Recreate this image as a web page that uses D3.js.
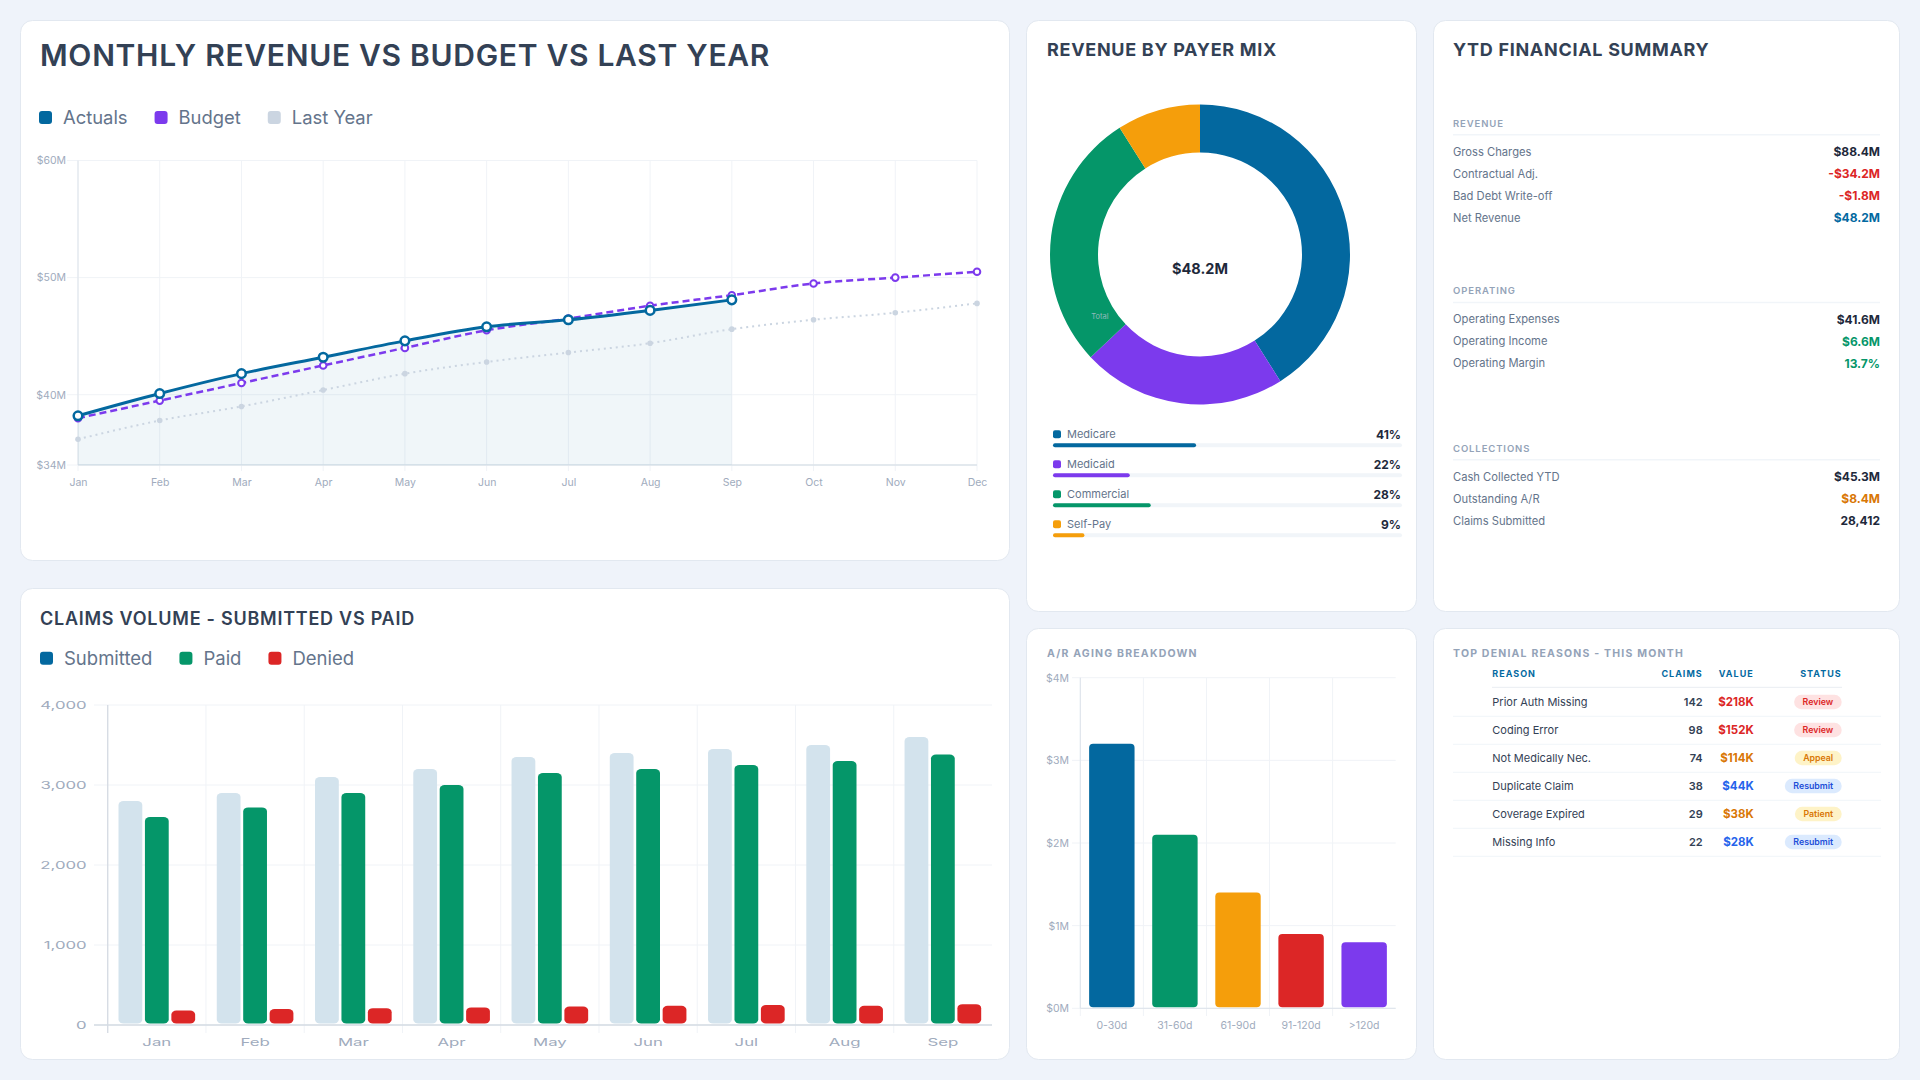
<!DOCTYPE html>
<html>
<head>
<meta charset="utf-8">
<script src="https://cdn.jsdelivr.net/npm/d3@7"></script>
<style>
body { margin: 0; background: #eff3fa; font-family: Inter, "Noto Sans", sans-serif; }
svg { display: block; }
</style>
</head>
<body>
<svg id="dash" width="1920" height="1080"></svg>
<script>
// ---- data ----
var months = ["Jan", "Feb", "Mar", "Apr", "May", "Jun", "Jul", "Aug", "Sep", "Oct", "Nov", "Dec"];
var actuals = [38.2, 40.1, 41.8, 43.2, 44.6, 45.8, 46.4, 47.2, 48.1];
var budget = [38.0, 39.5, 41.0, 42.5, 44.0, 45.5, 46.5, 47.6, 48.5, 49.5, 50.0, 50.5];
var lastYear = [36.2, 37.8, 39.0, 40.4, 41.8, 42.8, 43.6, 44.4, 45.6, 46.4, 47.0, 47.8];
var revenueTicks = [34, 40, 50, 60];
var revenueSeries = ["Actuals", "Budget", "Last Year"];

var payers = ["Medicare", "Medicaid", "Commercial", "Self-Pay"];
var payerShare = [41, 22, 28, 9];
var donutTotal = "$48.2M";

var summarySections = ["REVENUE", "OPERATING", "COLLECTIONS"];
var summaryLabels = [
	["Gross Charges", "Contractual Adj.", "Bad Debt Write-off", "Net Revenue"],
	["Operating Expenses", "Operating Income", "Operating Margin"],
	["Cash Collected YTD", "Outstanding A/R", "Claims Submitted"]
];
var summaryValues = [
	["$88.4M", "-$34.2M", "-$1.8M", "$48.2M"],
	["$41.6M", "$6.6M", "13.7%"],
	["$45.3M", "$8.4M", "28,412"]
];
var summaryTones = [
	["base", "neg", "neg", "accent"],
	["base", "pos", "pos"],
	["base", "warn", "base"]
];

var agingBuckets = ["0-30d", "31-60d", "61-90d", "91-120d", ">120d"];
var agingValues = [3.2, 2.1, 1.4, 0.9, 0.8];
var agingTicks = [0, 1, 2, 3, 4];

var claimSeries = ["Submitted", "Paid", "Denied"];
var claimMonths = months.slice(0, 9);
var submitted = [2800, 2900, 3100, 3200, 3350, 3400, 3450, 3500, 3600];
var paid = [2600, 2720, 2900, 3000, 3150, 3200, 3250, 3300, 3380];
var denied = [180, 200, 210, 220, 230, 240, 250, 240, 260];
var claimTicks = [0, 1000, 2000, 3000, 4000];

var denialHeaders = ["REASON", "CLAIMS", "VALUE", "STATUS"];
var denialReasons = ["Prior Auth Missing", "Coding Error", "Not Medically Nec.", "Duplicate Claim", "Coverage Expired", "Missing Info"];
var denialClaims = [142, 98, 74, 38, 29, 22];
var denialValues = ["$218K", "$152K", "$114K", "$44K", "$38K", "$28K"];
var denialStatus = ["Review", "Review", "Appeal", "Resubmit", "Patient", "Resubmit"];

// ---- styling ----
var blue = "#03689f", purple = "#7c3aed", green = "#059669", orange = "#f59e0b", red = "#dc2626";
var toneColor = { base: "#1e293b", neg: "#dc2626", accent: "#0369a1", pos: "#059669", warn: "#d97706" };
var statusText = { Review: "#dc2626", Appeal: "#d97706", Resubmit: "#1d4ed8", Patient: "#d97706" };
var statusFill = { Review: "#fee2e2", Appeal: "#fef3c7", Resubmit: "#dbeafe", Patient: "#fef3c7" };
var statusValue = { Review: "#dc2626", Appeal: "#d97706", Resubmit: "#2563eb", Patient: "#d97706" };
var gridColor = "#f0f3f7", axisColor = "#dde3ea", tickText = "#a0abbd";

var svg = d3.select("#dash");
svg.append("rect").attr("width", 1920).attr("height", 1080).attr("fill", "#eff3fa");

var panels = [[20, 20, 990, 541], [1026, 20, 391, 592], [1433, 20, 467, 592],
	[20, 588, 990, 472], [1026, 628, 391, 432], [1433, 628, 467, 432]];
svg.selectAll(".panel").data(panels).enter().append("rect")
	.attr("class", "panel")
	.attr("x", function (d) { return d[0] + 0.5; })
	.attr("y", function (d) { return d[1] + 0.5; })
	.attr("width", function (d) { return d[2] - 1; })
	.attr("height", function (d) { return d[3] - 1; })
	.attr("rx", 12)
	.attr("fill", "#fff")
	.attr("stroke", "#e2e8f0");

function title(x, y, txt, size, weight, spacing, color) {
	return svg.append("text").attr("x", x).attr("y", y)
		.style("font-size", size + "px").style("font-weight", weight)
		.style("letter-spacing", spacing + "px")
		.attr("fill", color).text(txt);
}

function legend(x, y, names, colors, size) {
	var cx = x;
	names.forEach(function (n, i) {
		svg.append("rect").attr("x", cx).attr("y", y - 6.5).attr("width", 13).attr("height", 13)
			.attr("rx", 3).attr("fill", colors[i]);
		var t = svg.append("text").attr("x", cx + 24).attr("y", y).attr("dy", "0.35em")
			.style("font-size", size + "px").attr("fill", "#64748b").text(n);
		cx += 24 + t.node().getComputedTextLength() + 27;
	});
}

// ================= Monthly revenue line chart =================
title(40, 66, "MONTHLY REVENUE VS BUDGET VS LAST YEAR", 30, 600, 0.7, "#334155");
legend(39, 117.5, revenueSeries, [blue, purple, "#cbd5e1"], 18.4);

var xR = d3.scalePoint().domain(months).range([78, 977]);
var yR = d3.scaleLinear().domain([34, 60]).range([465, 160.5]);
var lc = svg.append("g");

lc.selectAll(".hg").data(revenueTicks).enter().append("line")
	.attr("x1", 67).attr("x2", 977)
	.attr("y1", function (d) { return yR(d); }).attr("y2", function (d) { return yR(d); })
	.attr("stroke", gridColor);
lc.selectAll(".vg").data(months).enter().append("line")
	.attr("x1", function (d) { return xR(d); }).attr("x2", function (d) { return xR(d); })
	.attr("y1", yR(60)).attr("y2", 471)
	.attr("stroke", gridColor);
lc.append("line").attr("x1", 78).attr("x2", 78).attr("y1", yR(60)).attr("y2", yR(34)).attr("stroke", axisColor);
lc.append("line").attr("x1", 78).attr("x2", 977).attr("y1", yR(34)).attr("y2", yR(34)).attr("stroke", axisColor).attr("stroke-width", 1.5);

lc.append("g").attr("transform", "translate(78,0)")
	.call(d3.axisLeft(yR).tickValues(revenueTicks).tickFormat(function (d) { return "$" + d + "M"; }).tickSize(0).tickPadding(12))
	.call(function (g) { g.select(".domain").remove(); })
	.selectAll("text").style("font-size", "10.5px").style("font-family", "Inter").attr("fill", tickText);
lc.append("g").attr("transform", "translate(0," + yR(34) + ")")
	.call(d3.axisBottom(xR).tickSize(0).tickPadding(13.5))
	.call(function (g) { g.select(".domain").remove(); })
	.selectAll("text").style("font-size", "10.5px").style("font-family", "Inter").attr("fill", tickText);

var area = d3.area().curve(d3.curveMonotoneX)
	.x(function (d, i) { return xR(months[i]); })
	.y0(yR(34)).y1(function (d) { return yR(d); });
var line = d3.line().curve(d3.curveMonotoneX)
	.x(function (d, i) { return xR(months[i]); })
	.y(function (d) { return yR(d); });

lc.append("path").datum(actuals).attr("d", area).attr("fill", "rgba(3,105,161,0.06)");

lc.append("path").datum(lastYear).attr("d", line).attr("fill", "none")
	.attr("stroke", "#cbd5e1").attr("stroke-width", 2).attr("stroke-dasharray", "2,4");
lc.selectAll(".ly").data(lastYear).enter().append("circle")
	.attr("cx", function (d, i) { return xR(months[i]); }).attr("cy", function (d) { return yR(d); })
	.attr("r", 2.8).attr("fill", "#cbd5e1");

lc.append("path").datum(budget).attr("d", line).attr("fill", "none")
	.attr("stroke", purple).attr("stroke-width", 2.5).attr("stroke-dasharray", "7,4");
lc.selectAll(".bu").data(budget).enter().append("circle")
	.attr("cx", function (d, i) { return xR(months[i]); }).attr("cy", function (d) { return yR(d); })
	.attr("r", 3.3).attr("fill", "#fff").attr("stroke", purple).attr("stroke-width", 2);

lc.append("path").datum(actuals).attr("d", line).attr("fill", "none")
	.attr("stroke", blue).attr("stroke-width", 3);
lc.selectAll(".ac").data(actuals).enter().append("circle")
	.attr("cx", function (d, i) { return xR(months[i]); }).attr("cy", function (d) { return yR(d); })
	.attr("r", 4.3).attr("fill", "#fff").attr("stroke", blue).attr("stroke-width", 2.5);

// ================= Payer mix donut =================
title(1047, 55.5, "REVENUE BY PAYER MIX", 18, 700, 0.7, "#334155");
var payerColors = [blue, purple, green, orange];
var pie = d3.pie().sort(null).value(function (d) { return d; });
var arc = d3.arc().innerRadius(102).outerRadius(150);
var dg = svg.append("g").attr("transform", "translate(1200,254.5)");
dg.selectAll("path").data(pie(payerShare)).enter().append("path")
	.attr("d", arc).attr("fill", function (d, i) { return payerColors[i]; });
dg.append("text").attr("x", 0).attr("y", 14).attr("dy", "0.35em").attr("text-anchor", "middle")
	.style("font-size", "14.5px").style("font-weight", 700).attr("fill", "#1e293b").text(donutTotal);
dg.append("text").attr("x", -100).attr("y", 61.5).attr("dy", "0.35em").attr("text-anchor", "middle")
	.style("font-size", "7.5px").attr("fill", "#b6c2cf").attr("opacity", 0.8).text("Total");

var pw = d3.scaleLinear().domain([0, 100]).range([0, 349]);
payers.forEach(function (p, i) {
	var y = 434.3 + i * 30;
	svg.append("rect").attr("x", 1053).attr("y", y - 4).attr("width", 8).attr("height", 8).attr("rx", 2).attr("fill", payerColors[i]);
	svg.append("text").attr("x", 1067).attr("y", y).attr("dy", "0.35em")
		.style("font-size", "11px").attr("fill", "#64748b").text(p);
	svg.append("text").attr("x", 1401).attr("y", y).attr("dy", "0.35em").attr("text-anchor", "end")
		.style("font-size", "12px").style("font-weight", 700).attr("fill", "#1e293b").text(payerShare[i] + "%");
	svg.append("rect").attr("x", 1053).attr("y", y + 9).attr("width", pw(100)).attr("height", 4).attr("rx", 2).attr("fill", "#f1f5f9");
	svg.append("rect").attr("x", 1053).attr("y", y + 9).attr("width", pw(payerShare[i])).attr("height", 4).attr("rx", 2).attr("fill", payerColors[i]);
});

// ================= YTD financial summary =================
title(1453, 55.5, "YTD FINANCIAL SUMMARY", 18, 700, 0.7, "#334155");
var sectionY = [123.3, 291, 448.3];
summarySections.forEach(function (s, si) {
	var y0 = sectionY[si];
	svg.append("text").attr("x", 1453).attr("y", y0).attr("dy", "0.35em")
		.style("font-size", "9.5px").style("font-weight", 600).style("letter-spacing", "0.9px")
		.attr("fill", "#94a3b8").text(s);
	svg.append("line").attr("x1", 1453).attr("x2", 1880).attr("y1", y0 + 11.5).attr("y2", y0 + 11.5)
		.attr("stroke", "#f1f5f9").attr("stroke-width", 1.5);
	summaryLabels[si].forEach(function (l, ri) {
		var y = y0 + 28.3 + ri * 22;
		svg.append("text").attr("x", 1453).attr("y", y).attr("dy", "0.35em")
			.style("font-size", "11.2px").attr("fill", "#64748b").text(l);
		svg.append("text").attr("x", 1880).attr("y", y).attr("dy", "0.35em").attr("text-anchor", "end")
			.style("font-size", "12px").style("font-weight", 700)
			.attr("fill", toneColor[summaryTones[si][ri]]).text(summaryValues[si][ri]);
	});
});

// ================= A/R aging bars =================
title(1047, 657, "A/R AGING BREAKDOWN", 10.5, 700, 1.2, "#94a3b8");
var xA = d3.scaleBand().domain(agingBuckets).range([1080.3, 1395.7]).paddingInner(0.28).paddingOuter(0.14);
var yA = d3.scaleLinear().domain([0, 4]).range([1008.3, 677.7]);
var agingColors = [blue, green, orange, red, purple];
var ag = svg.append("g");
ag.selectAll(".hg").data(agingTicks).enter().append("line")
	.attr("x1", 1072).attr("x2", 1395.7)
	.attr("y1", function (d) { return yA(d); }).attr("y2", function (d) { return yA(d); })
	.attr("stroke", gridColor);
ag.selectAll(".vg").data(agingBuckets).enter().append("line")
	.attr("x1", function (d) { return xA(d) - xA.step() * 0.14; })
	.attr("x2", function (d) { return xA(d) - xA.step() * 0.14; })
	.attr("y1", yA(4)).attr("y2", 1016)
	.attr("stroke", gridColor);
ag.append("line").attr("x1", 1080.3).attr("x2", 1080.3).attr("y1", yA(4)).attr("y2", yA(0)).attr("stroke", axisColor);
ag.append("line").attr("x1", 1080.3).attr("x2", 1395.7).attr("y1", yA(0)).attr("y2", yA(0)).attr("stroke", axisColor);
ag.append("g").attr("transform", "translate(1080.3,0)")
	.call(d3.axisLeft(yA).tickValues(agingTicks).tickFormat(function (d) { return "$" + d + "M"; }).tickSize(0).tickPadding(11.3))
	.call(function (g) { g.select(".domain").remove(); })
	.selectAll("text").style("font-size", "10.5px").style("font-family", "Inter").attr("fill", tickText);
ag.append("g").attr("transform", "translate(0," + yA(0) + ")")
	.call(d3.axisBottom(xA).tickSize(0).tickPadding(13.5))
	.call(function (g) { g.select(".domain").remove(); })
	.selectAll("text").style("font-size", "10.5px").style("font-family", "Inter").attr("fill", tickText);
ag.selectAll(".bar").data(agingValues).enter().append("rect")
	.attr("x", function (d, i) { return xA(agingBuckets[i]); })
	.attr("y", function (d) { return yA(d); })
	.attr("width", xA.bandwidth())
	.attr("height", function (d) { return yA(0) - yA(d) - 1; })
	.attr("rx", 4)
	.attr("fill", function (d, i) { return agingColors[i]; });

// ================= Top denial reasons table =================
title(1453, 657, "TOP DENIAL REASONS - THIS MONTH", 10.5, 700, 1.2, "#94a3b8");
var colX = [1492.3, 1702.7, 1753.7, 1841.7];
var colAnchor = ["start", "end", "end", "end"];
denialHeaders.forEach(function (h, i) {
	svg.append("text").attr("x", colX[i]).attr("y", 674.3).attr("dy", "0.35em").attr("text-anchor", colAnchor[i])
		.style("font-size", "9px").style("font-weight", 700).style("letter-spacing", "1px")
		.attr("fill", "#0369a1").text(h);
});
svg.append("line").attr("x1", 1492).attr("x2", 1842).attr("y1", 687.3).attr("y2", 687.3).attr("stroke", "#e9edf2");
denialReasons.forEach(function (r, i) {
	var y = 702 + i * 28;
	var st = denialStatus[i];
	svg.append("text").attr("x", colX[0]).attr("y", y).attr("dy", "0.35em")
		.style("font-size", "11px").attr("fill", "#334155").text(r);
	svg.append("text").attr("x", colX[1]).attr("y", y).attr("dy", "0.35em").attr("text-anchor", "end")
		.style("font-size", "11px").style("font-weight", 600).attr("fill", "#334155").text(denialClaims[i]);
	svg.append("text").attr("x", colX[2]).attr("y", y).attr("dy", "0.35em").attr("text-anchor", "end")
		.style("font-size", "11.5px").style("font-weight", 700).attr("fill", statusValue[st]).text(denialValues[i]);
	var pill = svg.append("rect").attr("y", y - 7.2).attr("height", 14.4).attr("rx", 7.2).attr("fill", statusFill[st]);
	var pt = svg.append("text").attr("y", y).attr("dy", "0.35em").attr("text-anchor", "middle")
		.style("font-size", "8.8px").style("font-weight", 600).attr("fill", statusText[st]).text(st);
	var w = pt.node().getComputedTextLength() + 17;
	pill.attr("x", colX[3] - w).attr("width", w);
	pt.attr("x", colX[3] - w / 2);
	svg.append("line").attr("x1", 1453).attr("x2", 1881).attr("y1", y + 14.3).attr("y2", y + 14.3).attr("stroke", "#f1f5f9");
});

// ================= Claims volume grouped bars =================
title(40, 624.5, "CLAIMS VOLUME - SUBMITTED VS PAID", 18, 600, 0.75, "#334155");
legend(40, 658.3, claimSeries, [blue, green, red], 18.5);

var sx = 1.6; // this chart's canvas is stretched sideways in the reference
var x0 = d3.scaleBand().domain(claimMonths).range([107.7, 992]).paddingInner(0.22).paddingOuter(0.11);
var x1 = d3.scaleBand().domain(claimSeries).range([0, x0.bandwidth()]).paddingInner(0.1);
var yC = d3.scaleLinear().domain([0, 4000]).range([1025, 705]);
var claimColors = ["#d3e3ed", green, red];
var cg = svg.append("g");
cg.selectAll(".hg").data(claimTicks).enter().append("line")
	.attr("x1", 94).attr("x2", 992)
	.attr("y1", function (d) { return yC(d); }).attr("y2", function (d) { return yC(d); })
	.attr("stroke", gridColor);
cg.selectAll(".vg").data(claimMonths).enter().append("line")
	.attr("x1", function (d) { return x0(d) - x0.step() * 0.11; })
	.attr("x2", function (d) { return x0(d) - x0.step() * 0.11; })
	.attr("y1", yC(4000)).attr("y2", 1033)
	.attr("stroke", gridColor);
cg.append("line").attr("x1", 107.7).attr("x2", 107.7).attr("y1", yC(4000)).attr("y2", 1033).attr("stroke", "#d5dbe3").attr("stroke-width", 1.3);
cg.append("line").attr("x1", 94).attr("x2", 992).attr("y1", yC(0)).attr("y2", yC(0)).attr("stroke", "#d5dbe3").attr("stroke-width", 1.3);

cg.append("g").attr("transform", "translate(107.7,0)")
	.call(d3.axisLeft(yC).tickValues(claimTicks).tickFormat(d3.format(",")).tickSize(0).tickPadding(21))
	.call(function (g) { g.select(".domain").remove(); })
	.selectAll("text").attr("x", -21 / sx).attr("transform", "scale(" + sx + ",1)")
	.style("font-size", "10.5px").style("font-family", "Inter").attr("fill", tickText);
cg.append("g").attr("transform", "translate(0," + yC(0) + ")")
	.call(d3.axisBottom(x0).tickSize(0).tickPadding(13.5))
	.call(function (g) { g.select(".domain").remove(); })
	.selectAll("text").attr("transform", "scale(" + sx + ",1)")
	.style("font-size", "10.5px").style("font-family", "Inter").attr("fill", tickText);

var claimData = [submitted, paid, denied];
claimMonths.forEach(function (m, mi) {
	claimSeries.forEach(function (s, si) {
		var v = claimData[si][mi];
		cg.append("rect")
			.attr("x", x0(m) + x1(s))
			.attr("y", yC(v))
			.attr("width", x1.bandwidth())
			.attr("height", yC(0) - yC(v) - 1.5)
			.attr("rx", 5).attr("ry", 4)
			.attr("fill", claimColors[si]);
	});
});
</script>
</body>
</html>
